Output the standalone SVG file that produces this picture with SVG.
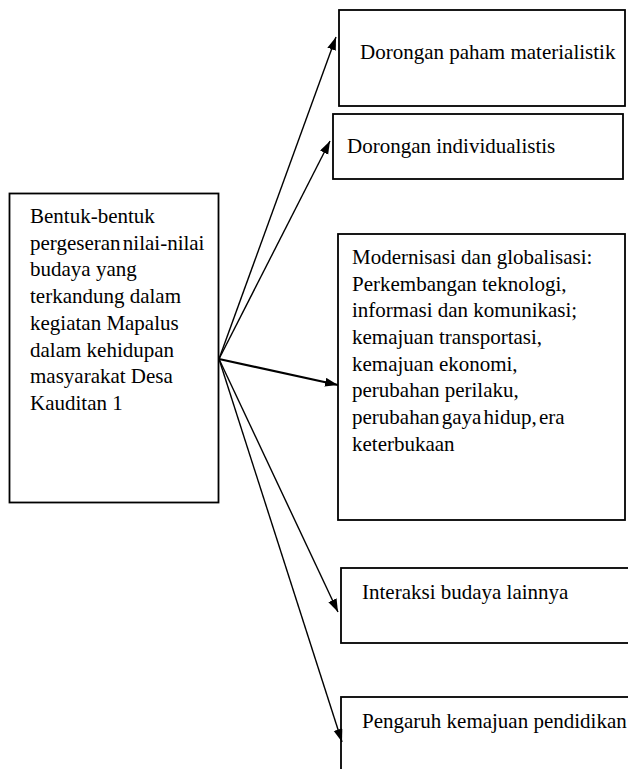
<svg xmlns="http://www.w3.org/2000/svg" width="628" height="769" viewBox="0 0 628 769">
<style>
.box{fill:#fff;stroke:#000;stroke-width:1.8}
.t{font-family:"Liberation Serif","Times New Roman",serif;font-size:21px;fill:#000}
.c{stroke:#000;stroke-width:1.4;fill:none}
</style>
<defs>
<marker id="ah" markerUnits="userSpaceOnUse" markerWidth="14" markerHeight="10" refX="13" refY="4.5" orient="auto">
<path d="M0,0 L13,4.5 L0,9 z" fill="#000"/>
</marker>
</defs>
<rect width="628" height="769" fill="#fff"/>
<g id="n0">
<rect class="box" x="9.5" y="193.5" width="209" height="309"/>
<text class="t" x="30" y="223">
<tspan x="30" y="223">Bentuk-bentuk</tspan>
<tspan x="30" y="249.7" word-spacing="-3">pergeseran nilai-nilai</tspan>
<tspan x="30" y="276.4">budaya yang</tspan>
<tspan x="30" y="303.1">terkandung dalam</tspan>
<tspan x="30" y="329.8">kegiatan Mapalus</tspan>
<tspan x="30" y="356.5">dalam kehidupan</tspan>
<tspan x="30" y="383.2">masyarakat Desa</tspan>
<tspan x="30" y="410">Kauditan 1</tspan>
</text>
</g>
<g id="n1">
<rect class="box" x="339" y="10" width="286" height="96"/>
<text class="t" x="360" y="59">Dorongan paham materialistik</text>
</g>
<g id="n2">
<rect class="box" x="333" y="114" width="290" height="65"/>
<text class="t" x="347" y="153">Dorongan individualistis</text>
</g>
<g id="n3">
<rect class="box" x="338" y="234" width="287" height="286"/>
<text class="t">
<tspan x="352" y="264">Modernisasi dan globalisasi:</tspan>
<tspan x="352" y="290.7">Perkembangan teknologi,</tspan>
<tspan x="352" y="317.3">informasi dan komunikasi;</tspan>
<tspan x="352" y="344">kemajuan transportasi,</tspan>
<tspan x="352" y="370.7">kemajuan ekonomi,</tspan>
<tspan x="352" y="397.3">perubahan perilaku,</tspan>
<tspan x="352" y="424" word-spacing="-3">perubahan gaya hidup, era</tspan>
<tspan x="352" y="450.7">keterbukaan</tspan>
</text>
</g>
<g id="n4">
<rect class="box" x="341" y="568" width="300" height="75"/>
<text class="t" x="362" y="599">Interaksi budaya lainnya</text>
</g>
<g id="n5">
<rect class="box" x="341" y="697" width="300" height="100"/>
<text class="t" x="362" y="728">Pengaruh kemajuan pendidikan</text>
</g>
<g id="connectors">
<line class="c" x1="219" y1="359" x2="336" y2="37" marker-end="url(#ah)"/>
<line class="c" x1="219" y1="359" x2="330" y2="141" marker-end="url(#ah)"/>
<line class="c" x1="219" y1="359" x2="338" y2="385" marker-end="url(#ah)" style="stroke-width:2.2"/>
<line class="c" x1="219" y1="359" x2="338" y2="612" marker-end="url(#ah)"/>
<line class="c" x1="219" y1="359" x2="342" y2="742" marker-end="url(#ah)"/>
</g>
</svg>
